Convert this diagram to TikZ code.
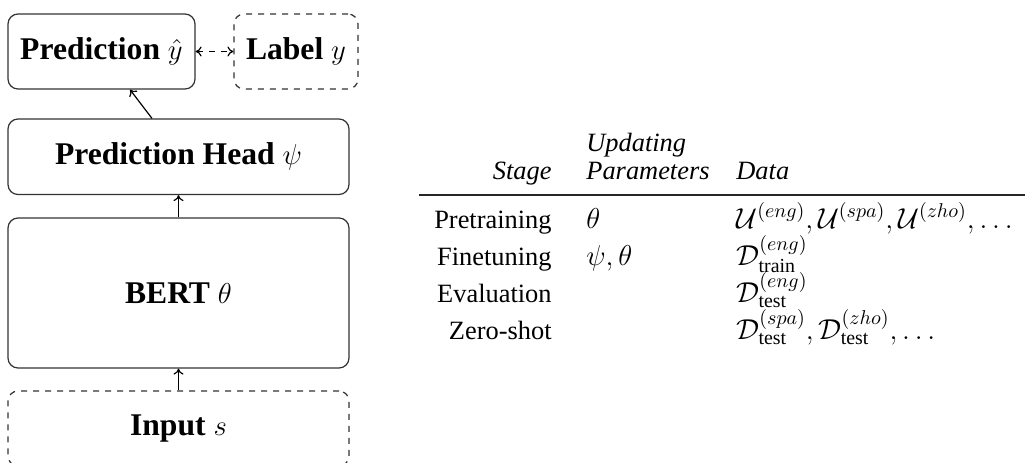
\documentclass[tikz,border=0pt]{standalone}
\usepackage{amsmath}
\usepackage{fontspec}
\setmainfont{Liberation Serif}
\usetikzlibrary{arrows.meta}
\begin{document}
\begin{tikzpicture}[x=0.5pt,y=-0.5pt,
  box/.style={draw=black!80, line width=0.6pt, rounded corners=5pt, inner sep=0pt,
    font=\fontsize{15.8}{19}\selectfont\bfseries},
  dbox/.style={box, dashed},
  tip/.style={-{To[length=3pt,width=5pt]}},
  conn/.style={tip, line width=0.6pt},
  tab/.style={inner sep=0pt, font=\fontsize{13.2}{15.8}\selectfont},
  mtab/.style={inner sep=0pt, font=\fontsize{14.2}{17}\selectfont},
  hd/.style={tab, font=\fontsize{13.2}{15.8}\selectfont\itshape}]
\useasboundingbox (0,0) rectangle (1025,462);
% diagram
\node[box, minimum width=93.5pt, minimum height=37.5pt] (pred) at (101.5,51.5) {Prediction $\hat{y}$};
\node[dbox, minimum width=62pt, minimum height=37.5pt] (label) at (296,51.5) {Label $y$};
\node[box, minimum width=170.5pt, minimum height=37.75pt] (head) at (178.5,156.75) {Prediction Head $\psi$};
\node[box, minimum width=170.5pt, minimum height=75pt] (bert) at (178.5,293) {BERT $\theta$};
\node[dbox, minimum width=170.5pt, minimum height=37.5pt] (input) at (178.5,428.5) {Input $s$};
\draw[line width=0.6pt, {To[length=3pt,width=5pt]}-{To[length=3pt,width=5pt]}, dashed] (pred.east) -- (label.west);
\draw[conn] ([xshift=-13.25pt]head.north) -- ([xshift=14.25pt]pred.south);
\draw[conn] (bert.north) -- (head.south);
\draw[conn] (input.north) -- (bert.south);
% table
\node[hd, anchor=base east] (hstage) at (552,179) {Stage};
\node[hd, anchor=base west] (hupd) at (586,151) {Updating};
\node[hd, anchor=base west] (hpar) at (586,179) {Parameters};
\node[hd, anchor=base west] (hdata) at (736,179) {Data};
\coordinate (rl) at (419,195);
\coordinate (rr) at (1025,195);
\draw[line width=0.65pt, black!85] (rl) -- (rr);
\node[tab, anchor=base east] (s1) at (552,228) {Pretraining};
\node[mtab, anchor=base west] (p1) at (586,228) {$\theta$};
\node[mtab, anchor=base west] (d1) at (736,228) {$\mathcal{U}^{(eng)},\mathcal{U}^{(spa)},\mathcal{U}^{(zho)},\dots$};
\node[tab, anchor=base east] (s2) at (552,265) {Finetuning};
\node[mtab, anchor=base west] (p2) at (586,265) {$\psi,\theta$};
\node[mtab, anchor=base west] (d2) at (736,265) {$\mathcal{D}^{(eng)}_{\text{train}}$};
\node[tab, anchor=base east] (s3) at (552,302) {Evaluation};
\node[mtab, anchor=base west] (d3) at (736,302) {$\mathcal{D}^{(eng)}_{\text{test}}$};
\node[tab, anchor=base east] (s4) at (552,339) {Zero-shot};
\node[mtab, anchor=base west] (d4) at (736,339) {$\mathcal{D}^{(spa)}_{\text{test}},\mathcal{D}^{(zho)}_{\text{test}},\dots$};
\end{tikzpicture}
\end{document}
